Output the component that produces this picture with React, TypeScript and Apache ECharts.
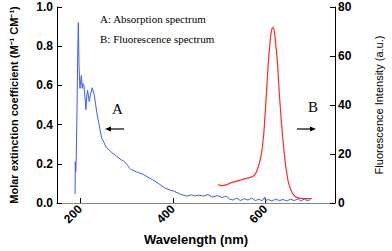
import React, { useEffect, useRef } from "react";
import * as echarts from "echarts";

const xTicks = [200, 400, 600];
const leftTicks = [0, 0.2, 0.4, 0.6, 0.8, 1.0];
const rightTicks = [0, 20, 40, 60, 80];

const absorption: [number, number][] = [
  [189, 0.045], [189.5, 0.21], [190.5, 0.16], [191.5, 0.23], [193, 0.45], [195, 0.8], [196, 0.92],
  [197.5, 0.7], [199.5, 0.585], [202.5, 0.65], [204.5, 0.585], [206, 0.61], [208, 0.6], [210.5, 0.535],
  [212.5, 0.476], [214, 0.54], [216, 0.576], [219.5, 0.518], [222, 0.55], [226, 0.588], [230.5, 0.55],
  [236, 0.46], [240, 0.41], [246, 0.335], [256, 0.285], [266, 0.262], [276, 0.243], [286, 0.225],
  [296, 0.21], [309, 0.172], [322, 0.158], [336, 0.146], [346, 0.132], [356, 0.12], [370, 0.098],
  [382, 0.077], [392, 0.068], [402, 0.06], [412, 0.05], [422, 0.04], [430, 0.035], [440, 0.042],
  [448, 0.036], [456, 0.04], [466, 0.035], [476, 0.043], [486, 0.03], [496, 0.038], [506, 0.028],
  [516, 0.035], [522, 0.02], [530, 0.015], [538, 0.025], [546, 0.012], [554, 0.022], [562, 0.015],
  [570, 0.025], [578, 0.012], [586, 0.02], [592, 0.01], [598, 0.03], [600, 0.012], [606, 0.018],
  [614, 0.01], [622, 0.02], [630, 0.012], [638, 0.018], [646, 0.01], [654, 0.02], [662, 0.012],
  [670, 0.022], [676, 0.01], [684, 0.02], [690, 0.012], [696, 0.016],
];

const fluorescence: [number, number][] = [
  [498, 7.5], [505, 7.1], [515, 7.4], [525, 8.2], [536, 8.8], [550, 9.6], [560, 10.1], [572, 10.8],
  [578, 11.8], [582, 13.5], [586, 15.8], [590, 18.8], [594, 24], [597, 30], [600, 39], [603, 48],
  [606, 57], [610, 66], [613, 70.5], [616, 71.7], [619, 70], [622, 65], [626, 57], [629, 47],
  [632, 39], [636, 29], [639, 23], [643, 16], [646, 12], [650, 8], [656, 4.8], [661, 3.2],
  [666, 2.4], [675, 1.9], [690, 1.8], [700, 1.8],
];

const legendA = "A: Absorption spectrum";
const legendB = "B: Fluorescence spectrum";

export default function App() {
  const ref = useRef<HTMLDivElement>(null);
  useEffect(() => {
    if (!ref.current) return;
    const chart = echarts.init(ref.current, null, { renderer: "svg" });
    const axisFont = { fontFamily: "Liberation Sans, Arial, sans-serif", color: "#000" };
    const serif = "Liberation Serif, Times New Roman, serif";
    chart.setOption({
      animation: false,
      grid: { left: 47, right: 45, top: 7, bottom: 44, containLabel: false },
      xAxis: [
        {
          type: "value",
          min: 150,
          max: 750,
          name: "Wavelength (nm)",
          nameLocation: "middle",
          nameGap: 30,
          nameTextStyle: { ...axisFont, fontWeight: "bold", fontSize: 13 },
          axisLine: { lineStyle: { color: "#000", width: 1 } },
          axisTick: { inside: true, length: 5, customValues: xTicks, lineStyle: { color: "#000" } },
          axisLabel: {
            customValues: xTicks,
            rotate: 45,
            ...axisFont,
            fontWeight: "bold",
            fontSize: 12,
            margin: 4,
          },
          splitLine: { show: false },
        },
        {
          type: "value",
          position: "top",
          min: 150,
          max: 750,
          axisLine: { show: true, lineStyle: { color: "#888", width: 1 } },
          axisTick: { show: false },
          axisLabel: { show: false },
          splitLine: { show: false },
        },
      ],
      yAxis: [
        {
          type: "value",
          min: 0,
          max: 1,
          interval: 0.2,
          name: "Molar extinction coefficient (M⁻¹ CM⁻¹)",
          nameLocation: "middle",
          nameGap: 38,
          nameTextStyle: { ...axisFont, fontWeight: "bold", fontSize: 11 },
          axisLine: { show: true, lineStyle: { color: "#000", width: 1 } },
          axisTick: { inside: true, length: 5, lineStyle: { color: "#000" } },
          axisLabel: {
            ...axisFont,
            fontWeight: "bold",
            fontSize: 12,
            margin: 4,
            formatter: (v: number) => v.toFixed(1),
          },
          splitLine: { show: false },
        },
        {
          type: "value",
          min: 0,
          max: 80,
          interval: 20,
          position: "right",
          name: "Fluorescence Intensity (a.u.)",
          nameLocation: "middle",
          nameGap: 38,
          nameRotate: 90,
          nameTextStyle: { ...axisFont, fontSize: 11 },
          axisLine: { show: true, lineStyle: { color: "#000", width: 1 } },
          axisTick: { inside: true, length: 5, lineStyle: { color: "#000" } },
          axisLabel: { ...axisFont, fontWeight: "bold", fontSize: 12, margin: 3 },
          splitLine: { show: false },
        },
      ],
      series: [
        {
          type: "line",
          xAxisIndex: 0,
          yAxisIndex: 0,
          data: absorption,
          showSymbol: false,
          lineStyle: { color: "#3d5cff", width: 1 },
        },
        {
          type: "line",
          xAxisIndex: 0,
          yAxisIndex: 1,
          data: fluorescence,
          showSymbol: false,
          smooth: 0.3,
          lineStyle: { color: "#ff2a2a", width: 1.2 },
        },
      ],
      graphic: [
        { type: "text", left: 100, top: 13, style: { text: legendA, font: `11px ${serif}`, fill: "#000" } },
        { type: "text", left: 100, top: 33, style: { text: legendB, font: `11px ${serif}`, fill: "#000" } },
        { type: "text", left: 112, top: 101, style: { text: "A", font: `15px ${serif}`, fill: "#000" } },
        { type: "text", left: 308, top: 99, style: { text: "B", font: `15px ${serif}`, fill: "#000" } },
        { type: "line", shape: { x1: 109, y1: 129, x2: 124, y2: 129 }, style: { stroke: "#000", lineWidth: 1.2 } },
        { type: "polygon", shape: { points: [[105, 129], [111, 126.5], [111, 131.5]] }, style: { fill: "#000" } },
        { type: "line", shape: { x1: 297, y1: 129, x2: 312, y2: 129 }, style: { stroke: "#000", lineWidth: 1.2 } },
        { type: "polygon", shape: { points: [[316, 129], [310, 126.5], [310, 131.5]] }, style: { fill: "#000" } },
      ],
    });
    return () => chart.dispose();
  }, []);
  return <div ref={ref} style={{ position: "absolute", left: 0, top: 0, width: 392, height: 251 }} />;
}
